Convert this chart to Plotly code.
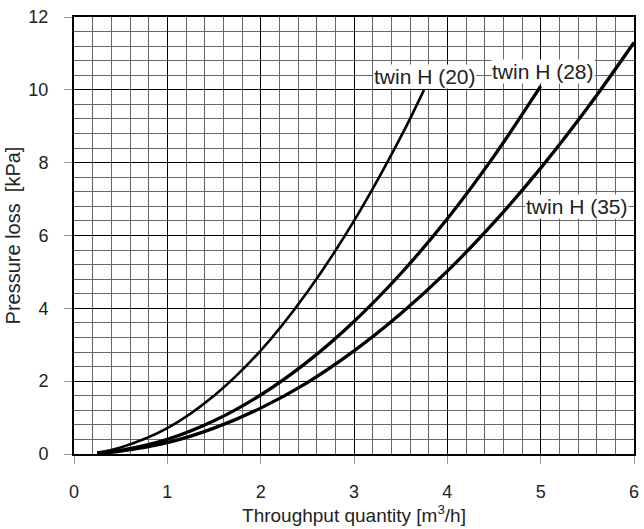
import plotly.graph_objects as go

# Data
x20 = [0.25, 0.5, 1.0, 1.5, 2.0, 2.5, 3.0, 3.5, 3.75]
y20 = [0.04, 0.18, 0.71, 1.6, 2.84, 4.45, 6.4, 8.7, 10.0]

x28 = [0.25, 0.5, 1.0, 1.5, 2.0, 2.5, 3.0, 3.5, 4.0, 4.5, 5.0]
y28 = [0.03, 0.1, 0.4, 0.91, 1.62, 2.53, 3.64, 4.95, 6.46, 8.18, 10.1]

x35 = [0.25, 0.5, 1.0, 1.5, 2.0, 2.5, 3.0, 3.5, 4.0, 4.5, 5.0, 5.5, 6.0]
y35 = [0.02, 0.08, 0.31, 0.71, 1.26, 1.96, 2.83, 3.85, 5.02, 6.36, 7.85, 9.5, 11.3]

labels = ["twin H (20)", "twin H (28)", "twin H (35)"]
label_x = [3.76, 5.02, 5.39]
label_y = [10.38, 10.5, 6.8]

fig = go.Figure()
for xs, ys, w in [(x20, y20, 2.6), (x28, y28, 3.3), (x35, y35, 3.3)]:
    fig.add_trace(go.Scatter(x=xs, y=ys, mode="lines", line=dict(color="black", width=w, shape="spline"),
                             showlegend=False, hoverinfo="skip"))

for t, lx, ly in zip(labels, label_x, label_y):
    fig.add_annotation(x=lx, y=ly, text=t, showarrow=False, bgcolor="white",
                       font=dict(size=21, color="#222"), borderpad=0)

fig.update_layout(
    width=644, height=529,
    margin=dict(l=74, r=5, t=17, b=75),
    paper_bgcolor="white", plot_bgcolor="white",
    font=dict(family="Liberation Sans, Arial, sans-serif", color="#222"),
    xaxis=dict(range=[0, 6], dtick=1, showgrid=True, gridcolor="black", gridwidth=1,
               minor=dict(dtick=0.2, showgrid=True, gridcolor="#666", gridwidth=1),
               ticks="outside", ticklen=8, tickcolor="#999", tickfont=dict(size=18, color="#222"),
               ticklabelstandoff=12,
               showline=True, linecolor="black", linewidth=2, mirror=True, zeroline=False,
               title=dict(text="Throughput quantity [m<sup>3</sup>/h]", font=dict(size=19, color="#222"), standoff=2)),
    yaxis=dict(range=[0, 12], dtick=2, showgrid=True, gridcolor="black", gridwidth=1,
               minor=dict(dtick=0.4, showgrid=True, gridcolor="#666", gridwidth=1),
               ticks="outside", ticklen=8, tickcolor="#999", tickfont=dict(size=18, color="#222"),
               ticklabelstandoff=12,
               showline=True, linecolor="black", linewidth=2, mirror=True, zeroline=False,
               title=dict(text="Pressure loss  [kPa]", font=dict(size=20, color="#222"), standoff=2)),
)

fig.write_html("out.html", config={"displayModeBar": False},
               post_script="document.body.style.margin='0';")
